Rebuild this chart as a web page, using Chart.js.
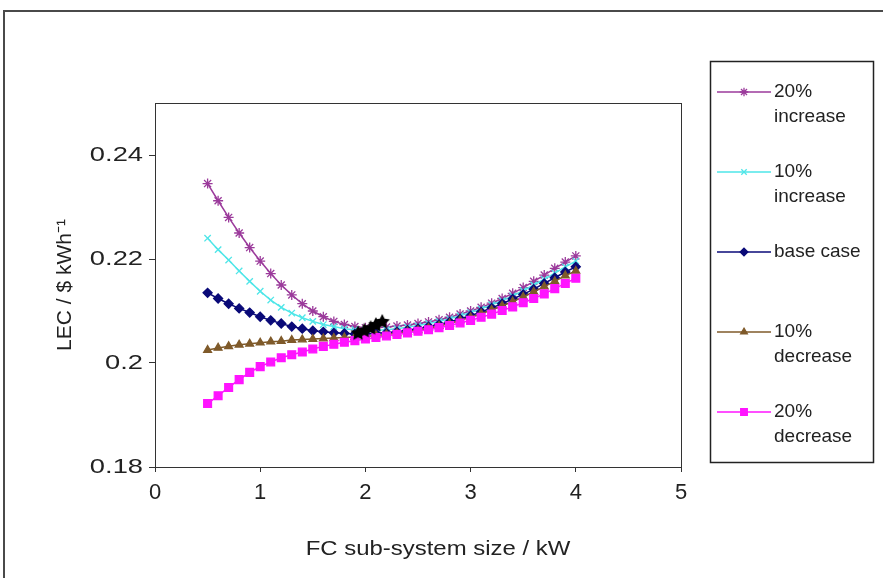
<!DOCTYPE html>
<html>
<head>
<meta charset="utf-8">
<title>LEC vs FC sub-system size</title>
<script src="https://cdn.jsdelivr.net/npm/chart.js@4/dist/chart.umd.min.js"></script>
<style>
  html, body { margin: 0; padding: 0; background: #fff; }
  #wrap { position: relative; width: 883px; height: 578px; overflow: hidden; }
</style>
</head>
<body>
<div id="wrap"><canvas id="lec" width="883" height="578"></canvas></div>
<script>
// FC sub-system size, kW
const sizes = [0.5, 0.6, 0.7, 0.8, 0.9, 1.0, 1.1, 1.2, 1.3, 1.4, 1.5, 1.6,
               1.7, 1.8, 1.9, 2.0, 2.1, 2.2, 2.3, 2.4, 2.5, 2.6, 2.7, 2.8,
               2.9, 3.0, 3.1, 3.2, 3.3, 3.4, 3.5, 3.6, 3.7, 3.8, 3.9, 4.0];

// LEC, $/kWh
const inc20 = [0.2345, 0.2312, 0.2280, 0.2250, 0.2222, 0.2196, 0.2172, 0.2150, 0.2131, 0.2114, 0.2100, 0.2089,
               0.2080, 0.2074, 0.2070, 0.2068, 0.2068, 0.2069, 0.2071, 0.2073, 0.2076, 0.2079, 0.2083, 0.2088,
               0.2094, 0.2100, 0.2107, 0.2115, 0.2124, 0.2134, 0.2145, 0.2157, 0.2169, 0.2182, 0.2194, 0.2206];
const inc10 = [0.2240, 0.2218, 0.2198, 0.2177, 0.2157, 0.2138, 0.2121, 0.2107, 0.2096, 0.2087, 0.2080, 0.2074,
               0.2070, 0.2066, 0.2064, 0.2063, 0.2063, 0.2064, 0.2066, 0.2069, 0.2072, 0.2076, 0.2080, 0.2085,
               0.2091, 0.2097, 0.2104, 0.2112, 0.2120, 0.2129, 0.2139, 0.2150, 0.2161, 0.2173, 0.2185, 0.2196];
const baseCase = [0.2135, 0.2124, 0.2114, 0.2105, 0.2097, 0.2089, 0.2082, 0.2076, 0.2070, 0.2066, 0.2062, 0.2060,
                  0.2058, 0.2057, 0.2056, 0.2056, 0.2057, 0.2058, 0.2060, 0.2063, 0.2066, 0.2070, 0.2074, 0.2079,
                  0.2085, 0.2091, 0.2098, 0.2106, 0.2114, 0.2123, 0.2132, 0.2142, 0.2153, 0.2164, 0.2175, 0.2185];
const dec10 = [0.2025, 0.2029, 0.2032, 0.2035, 0.2037, 0.2039, 0.2041, 0.2042, 0.2044, 0.2045, 0.2046, 0.2047,
               0.2048, 0.2049, 0.2050, 0.2051, 0.2053, 0.2055, 0.2057, 0.2060, 0.2063, 0.2067, 0.2071, 0.2076,
               0.2082, 0.2088, 0.2095, 0.2102, 0.2110, 0.2118, 0.2127, 0.2137, 0.2147, 0.2157, 0.2168, 0.2177];
const dec20 = [0.1922, 0.1937, 0.1953, 0.1968, 0.1982, 0.1993, 0.2002, 0.2010, 0.2016, 0.2021, 0.2027, 0.2032,
               0.2036, 0.2040, 0.2043, 0.2046, 0.2049, 0.2052, 0.2055, 0.2058, 0.2061, 0.2064, 0.2068, 0.2072,
               0.2077, 0.2082, 0.2088, 0.2094, 0.2101, 0.2108, 0.2116, 0.2124, 0.2133, 0.2143, 0.2153, 0.2163];

// optimum markers
const starSizes = [1.93, 1.99, 2.05, 2.10, 2.16];
const starLec = [0.2057, 0.2062, 0.2067, 0.2073, 0.2079];

const seriesNames = ['20% increase', '10% increase', 'base case', '10% decrease', '20% decrease'];
const xTicks = [0, 1, 2, 3, 4, 5];
const yTicks = [0.18, 0.2, 0.22, 0.24];

const FONT = '"Liberation Sans", Arial, sans-serif';
const TEXT = '#222';
const AXIS = '#333';

const pts = ys => sizes.map((x, i) => ({ x, y: ys[i] }));
const fmt = v => String(+v.toFixed(2));

// filled five-point star used as a point style
function starImage(r) {
  const c = document.createElement('canvas');
  c.width = c.height = 2 * r + 2;
  const g = c.getContext('2d');
  g.beginPath();
  for (let k = 0; k < 10; k++) {
    const a = -Math.PI / 2 + k * Math.PI / 5;
    const rr = k % 2 ? r * 0.5 : r;
    g.lineTo(r + 1 + rr * Math.cos(a), r + 1 + rr * Math.sin(a));
  }
  g.closePath();
  g.fillStyle = '#000';
  g.fill();
  return c;
}

function series(label, data, color, style, radius, order, fill) {
  return {
    label, data: pts(data), order,
    borderColor: color, borderWidth: 1.5,
    pointStyle: style, pointRadius: radius,
    pointBackgroundColor: fill || color, pointBorderColor: color,
    pointBorderWidth: 1.3, tension: 0, showLine: true
  };
}

const datasets = [
  series(seriesNames[0], inc20, '#9b3a9b', 'star', 5, 5),
  series(seriesNames[1], inc10, '#4ee6e8', 'crossRot', 4.5, 4),
  series(seriesNames[2], baseCase, '#0a0a78', 'rectRot', 4.5, 3),
  series(seriesNames[3], dec10, '#7f5a2a', 'triangle', 4.5, 2),
  series(seriesNames[4], dec20, '#ff14ff', 'rect', 5.5, 1),
  {
    label: 'optimum', order: 0, showLine: false,
    data: starSizes.map((x, i) => ({ x, y: starLec[i] })),
    pointStyle: starImage(8), pointRadius: 8
  }
];

// text set in a horizontally widened face, as on the axes
function wideText(ctx, text, x, y, align, sx) {
  ctx.save();
  ctx.translate(x, y);
  ctx.scale(sx, 1);
  ctx.textAlign = align;
  ctx.fillText(text, 0, 0);
  ctx.restore();
}

// outer frame, plot border, axis labels/titles and the boxed legend
const decor = {
  id: 'decor',
  beforeDraw(chart) {
    const ctx = chart.ctx;
    ctx.save();
    ctx.fillStyle = '#fff';
    ctx.fillRect(0, 0, chart.width, chart.height);
    ctx.strokeStyle = '#4a4a4a';
    ctx.lineWidth = 2;
    ctx.strokeRect(4, 11, chart.width + 20, chart.height + 20);
    ctx.restore();
  },
  beforeDatasetsDraw(chart) {
    const { ctx, chartArea: a } = chart;
    ctx.save();
    ctx.strokeStyle = AXIS;
    ctx.lineWidth = 1;
    ctx.strokeRect(a.left + 0.5, a.top + 0.5, a.right - a.left, a.bottom - a.top);
    ctx.restore();
  },
  afterDraw(chart) {
    const ctx = chart.ctx;
    const { x: xs, y: ys } = chart.scales;
    ctx.save();
    ctx.fillStyle = TEXT;
    ctx.textBaseline = 'middle';
    ctx.font = '21px ' + FONT;
    yTicks.forEach(v => wideText(ctx, fmt(v), ys.left + ys.width - 12, ys.getPixelForValue(v), 'right', 1.3));
    wideText(ctx, 'FC sub-system size / kW', 438, 549, 'center', 1.14);

    ctx.font = '22px ' + FONT;
    xTicks.forEach(v => wideText(ctx, fmt(v), xs.getPixelForValue(v), xs.top + 26, 'center', 1));

    ctx.font = '21px ' + FONT;
    ctx.save();
    ctx.translate(65, 285);
    ctx.rotate(-Math.PI / 2);
    ctx.textAlign = 'center';
    ctx.fillText('LEC / $ kWh⁻¹', 0, 0);
    ctx.restore();

    // legend box
    ctx.font = '19px ' + FONT;
    ctx.strokeStyle = '#222';
    ctx.lineWidth = 1.5;
    ctx.strokeRect(710.5, 61.5, 163, 401);
    ctx.textAlign = 'left';
    chart.data.datasets.slice(0, 5).forEach((ds, i) => {
      const y = 92 + 80 * i;
      ctx.strokeStyle = ds.borderColor;
      ctx.lineWidth = 1.5;
      ctx.beginPath();
      ctx.moveTo(717, y);
      ctx.lineTo(771, y);
      ctx.stroke();
      ctx.fillStyle = ds.pointBackgroundColor;
      ctx.strokeStyle = ds.pointBorderColor;
      ctx.lineWidth = ds.pointBorderWidth;
      Chart.helpers.drawPoint(ctx, {
        pointStyle: ds.pointStyle, rotation: 0,
        radius: ds.pointRadius * 0.85, borderWidth: ds.pointBorderWidth
      }, 744, y);
      // wrap the label to the box width
      ctx.fillStyle = TEXT;
      const lines = [];
      ds.label.split(' ').forEach(w => {
        const last = lines[lines.length - 1];
        if (last && ctx.measureText(last + ' ' + w).width <= 96) lines[lines.length - 1] = last + ' ' + w;
        else lines.push(w);
      });
      lines.forEach((t, j) => ctx.fillText(t, 774, y + j * 25));
    });
    ctx.restore();
  }
};

new Chart(document.getElementById('lec'), {
  type: 'scatter',
  data: { datasets },
  options: {
    responsive: false,
    animation: false,
    events: [],
    layout: { padding: { top: 103, right: 202, bottom: 0, left: 0 } },
    plugins: { legend: { display: false }, tooltip: { enabled: false } },
    scales: {
      x: {
        type: 'linear', min: 0, max: 5,
        afterBuildTicks: s => { s.ticks = xTicks.map(v => ({ value: v })); },
        afterFit: s => { s.height = 111; },
        grid: { drawOnChartArea: false, tickLength: 5, color: AXIS },
        border: { color: AXIS, width: 1 },
        ticks: { display: false },
        title: { display: false }
      },
      y: {
        type: 'linear', min: 0.18, max: 0.25,
        afterBuildTicks: s => { s.ticks = yTicks.map(v => ({ value: v })); },
        afterFit: s => { s.width = 155; },
        grid: { drawOnChartArea: false, tickLength: 6, color: AXIS },
        border: { color: AXIS, width: 1 },
        ticks: { display: false },
        title: { display: false }
      }
    }
  },
  plugins: [decor]
});
</script>
</body>
</html>
